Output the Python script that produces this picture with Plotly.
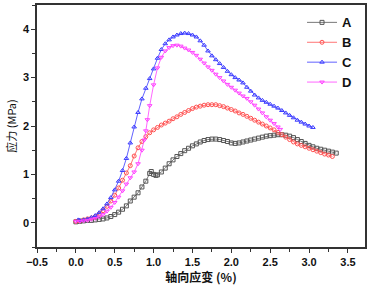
import plotly.graph_objects as go

# Series A
a_x = [0.00,0.05,0.10,0.15,0.20,0.25,0.30,0.35,0.40,0.45,0.50,0.55,0.60,0.65,0.70,0.75,0.80,0.85,0.90,0.95,0.97,1.00,1.03,1.05,1.10,1.15,1.20,1.25,1.30,1.35,1.40,1.45,1.50,1.55,1.60,1.65,1.70,1.75,1.80,1.85,1.90,1.95,2.00,2.05,2.10,2.15,2.20,2.25,2.30,2.35,2.40,2.45,2.50,2.55,2.60,2.65,2.70,2.75,2.80,2.85,2.90,2.95,3.00,3.05,3.10,3.15,3.20,3.25,3.30,3.35]
a_y = [0.02,0.03,0.04,0.05,0.05,0.06,0.07,0.08,0.10,0.13,0.17,0.22,0.28,0.35,0.45,0.53,0.62,0.74,0.86,1.02,1.06,1.00,0.98,0.99,1.05,1.13,1.22,1.30,1.37,1.43,1.49,1.54,1.59,1.63,1.67,1.70,1.72,1.73,1.73,1.72,1.70,1.68,1.65,1.64,1.65,1.67,1.69,1.71,1.73,1.75,1.77,1.79,1.80,1.81,1.82,1.82,1.81,1.79,1.76,1.72,1.68,1.64,1.60,1.57,1.54,1.52,1.50,1.48,1.46,1.44]

# Series B
b_x = [0.00,0.05,0.10,0.15,0.20,0.25,0.30,0.35,0.40,0.45,0.50,0.55,0.60,0.65,0.70,0.75,0.80,0.85,0.90,0.95,1.00,1.05,1.10,1.15,1.20,1.25,1.30,1.35,1.40,1.45,1.50,1.55,1.60,1.65,1.70,1.75,1.80,1.85,1.90,1.95,2.00,2.05,2.10,2.15,2.20,2.25,2.30,2.35,2.40,2.45,2.50,2.55,2.60,2.65,2.70,2.75,2.80,2.85,2.90,2.95,3.00,3.05,3.10,3.15,3.20,3.25,3.30]
b_y = [0.03,0.04,0.06,0.08,0.10,0.13,0.18,0.25,0.34,0.45,0.57,0.72,0.88,1.03,1.18,1.38,1.55,1.68,1.78,1.86,1.92,1.97,2.02,2.06,2.10,2.15,2.19,2.24,2.28,2.32,2.36,2.39,2.41,2.43,2.44,2.44,2.44,2.42,2.40,2.37,2.34,2.31,2.27,2.24,2.20,2.16,2.12,2.08,2.04,2.00,1.96,1.92,1.87,1.82,1.77,1.72,1.67,1.63,1.60,1.57,1.54,1.51,1.48,1.45,1.42,1.40,1.37]

# Series C
c_x = [0.03,0.05,0.10,0.15,0.20,0.25,0.30,0.35,0.40,0.45,0.50,0.55,0.60,0.65,0.70,0.75,0.80,0.85,0.90,0.95,1.00,1.05,1.10,1.15,1.20,1.25,1.30,1.35,1.40,1.45,1.50,1.55,1.60,1.65,1.70,1.75,1.80,1.85,1.90,1.95,2.00,2.05,2.10,2.15,2.20,2.25,2.30,2.35,2.40,2.45,2.50,2.55,2.60,2.65,2.70,2.75,2.80,2.85,2.90,2.95,3.00,3.05]
c_y = [0.06,0.05,0.06,0.08,0.11,0.15,0.21,0.29,0.39,0.52,0.68,0.86,1.08,1.33,1.65,1.98,2.28,2.56,2.78,2.98,3.18,3.40,3.58,3.70,3.78,3.84,3.88,3.91,3.92,3.91,3.88,3.84,3.76,3.67,3.55,3.45,3.37,3.29,3.21,3.13,3.06,3.00,2.95,2.89,2.80,2.72,2.64,2.58,2.53,2.49,2.45,2.41,2.37,2.32,2.27,2.22,2.17,2.12,2.08,2.04,2.00,1.97]

# Series D
d_x = [0.00,0.05,0.10,0.15,0.20,0.25,0.30,0.35,0.40,0.45,0.50,0.55,0.60,0.65,0.70,0.75,0.80,0.85,0.88,0.90,0.92,0.95,1.00,1.05,1.10,1.15,1.20,1.25,1.30,1.35,1.40,1.45,1.50,1.55,1.60,1.65,1.70,1.75,1.80,1.85,1.90,1.95,2.00,2.05,2.10,2.15,2.20,2.25,2.30,2.35,2.40,2.45,2.50,2.55,2.60,2.63]
d_y = [0.03,0.03,0.04,0.05,0.07,0.09,0.12,0.17,0.24,0.32,0.42,0.53,0.66,0.80,0.93,1.05,1.22,1.50,1.71,1.90,2.13,2.42,2.85,3.20,3.42,3.55,3.62,3.66,3.67,3.65,3.61,3.57,3.52,3.46,3.38,3.30,3.22,3.15,3.07,3.00,2.93,2.86,2.80,2.74,2.68,2.62,2.57,2.50,2.43,2.35,2.27,2.19,2.12,2.05,1.98,1.93]

names = ["A", "B", "C", "D"]
xs = [a_x, b_x, c_x, d_x]
ys = [a_y, b_y, c_y, d_y]
colors = ["#555555", "#FF5050", "#3A3AFF", "#FF40FF"]
symbols = ["square-open", "circle-open", "triangle-up-open", "triangle-down-open"]

fig = go.Figure()
for n, x, y, c, s in zip(names, xs, ys, colors, symbols):
    fig.add_trace(go.Scatter(
        x=x, y=y, name=n, mode="lines+markers",
        line=dict(color=c, width=0.8),
        marker=dict(symbol=s, size=4, color=c, line=dict(color=c, width=1)),
    ))

tf = dict(family="Liberation Sans, Arial", size=11, color="#111111", weight="bold")
fig.update_layout(
    width=371, height=292,
    margin=dict(l=37, r=6, t=5, b=45),
    paper_bgcolor="white", plot_bgcolor="white",
    font=dict(family="Liberation Sans, Arial", color="#111111"),
    showlegend=True,
    legend=dict(x=0.808, y=0.99, xanchor="left", yanchor="top",
                bgcolor="rgba(0,0,0,0)",
                font=dict(size=13, family="Liberation Sans, Arial", color="#111111", weight="bold"),
                tracegroupgap=0, itemwidth=30),
    xaxis=dict(range=[-0.5, 3.72], tick0=-0.5, dtick=0.5, tickformat=".1f", automargin=False,
               showgrid=False, zeroline=False, showline=True, linecolor="#333333", linewidth=1.5,
               mirror=True, ticks="outside", ticklen=4, tickwidth=1.2, tickcolor="#333333",
               tickfont=tf,
               minor=dict(dtick=0.25, tick0=-0.5, ticks="outside", ticklen=3, tickcolor="#333333", showgrid=False),
               title=dict(text="<b>轴向应变 (%)</b>", font=dict(family="Noto Sans CJK SC", size=12, color="#111111"), standoff=6)),
    yaxis=dict(range=[-0.5, 4.5], tick0=0, dtick=1, automargin=False,
               showgrid=False, zeroline=False, showline=True, linecolor="#333333", linewidth=1.5,
               mirror=True, ticks="outside", ticklen=4, tickwidth=1.2, tickcolor="#333333",
               tickfont=tf,
               minor=dict(dtick=0.5, tick0=0, ticks="outside", ticklen=3, tickcolor="#333333", showgrid=False),
               title=dict(text="应力 (MPa)", font=dict(family="Noto Sans CJK SC", size=11, color="#111111"), standoff=4)),
)
fig.write_html("out.html", config={"displayModeBar": False},
               post_script="document.body.style.margin='0';document.body.style.padding='0';")
